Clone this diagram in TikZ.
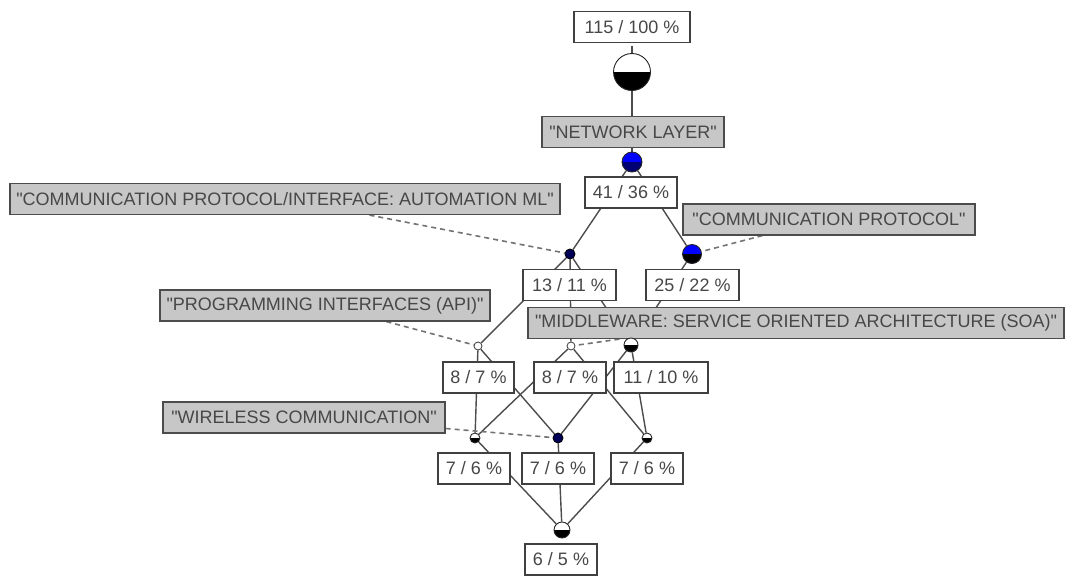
\documentclass[tikz,border=0pt]{standalone}
\usepackage{fontspec}
\setmainfont{Liberation Sans}[Ligatures=TeXOff]
\usetikzlibrary{backgrounds}
\begin{document}
\begin{tikzpicture}[x=1pt,y=-1pt,
  lbl/.style={font=\fontsize{18}{20}\selectfont, text=black!72, inner sep=0pt, line width=1.2pt},
  ext/.style={lbl, draw=black!75, fill=white, minimum height=31pt},
  attr/.style={lbl, draw=black!70, fill=black!22, minimum height=31pt},
  edge/.style={draw=black!70, line width=1.4pt},
  attrline/.style={draw=black!55, line width=1.6pt, dash pattern=on 5pt off 4pt},
  cnode/.style={circle, draw=black!85, line width=0.9pt, inner sep=0pt, fill=white},
  lowerfill/.style={path picture={\fill[#1] (path picture bounding box.west) rectangle (path picture bounding box.south east);}},
  objc/.style={cnode, lowerfill=black},
  bluec/.style={cnode, fill=blue, lowerfill=blue!45!black},
  blueobj/.style={cnode, fill=blue, lowerfill=black},
  navyc/.style={cnode, fill=blue!35!black, draw=black},
  emptyc/.style={cnode, fill=white, draw=black!70}
]
\useasboundingbox (0,0) rectangle (1067,576);

% extent labels
\node[ext, minimum width=116pt] (lt) at (632,27) {115 / 100 \%};
\node[ext, minimum width=92pt] (l1) at (631,192.5) {41 / 36 \%};
\node[ext, minimum width=93pt] (l2) at (569.5,285) {13 / 11 \%};
\node[ext, minimum width=93pt] (l3) at (692.5,285) {25 / 22 \%};
\node[ext, minimum width=71pt] (l4) at (478.5,377.5) {8 / 7 \%};
\node[ext, minimum width=72pt] (l5) at (570,377.5) {8 / 7 \%};
\node[ext, minimum width=94pt] (l6) at (661,377.5) {11 / 10 \%};
\node[ext, minimum width=72pt] (l7) at (474,468.5) {7 / 6 \%};
\node[ext, minimum width=72pt] (l8) at (558,468.5) {7 / 6 \%};
\node[ext, minimum width=72pt] (l9) at (647,468.5) {7 / 6 \%};
\node[ext, minimum width=72pt] (lb) at (561,559.5) {6 / 5 \%};

% attribute labels
\node[attr, minimum width=182pt] (anet) at (633,132) {"NETWORK LAYER"};
\node[attr, minimum width=550pt] (aaml) at (285,199) {"COMMUNICATION PROTOCOL/INTERFACE: AUTOMATION ML"};
\node[attr, minimum width=292pt] (acp) at (829,219.5) {"COMMUNICATION PROTOCOL"};
\node[attr, minimum width=330pt] (aapi) at (325,305.5) {"PROGRAMMING INTERFACES (API)"};
\node[attr, minimum width=536pt] (amw) at (796,323) {"MIDDLEWARE: SERVICE ORIENTED ARCHITECTURE (SOA)"};
\node[attr, minimum width=282pt] (awl) at (304,417.5) {"WIRELESS COMMUNICATION"};

% concept circles
\node[objc, minimum size=37pt] (t) at (632,72) {};
\node[bluec, minimum size=20pt] (n1) at (632,162) {};
\node[navyc, minimum size=10pt] (n2) at (570,254) {};
\node[blueobj, minimum size=19pt] (n3) at (692,254) {};
\node[emptyc, minimum size=8pt] (n4) at (478,346) {};
\node[emptyc, minimum size=8pt] (n5) at (571,346) {};
\node[objc, minimum size=14pt] (n6) at (631,345) {};
\node[objc, minimum size=10pt] (n7) at (475,438) {};
\node[navyc, minimum size=10pt] (n8) at (558,438) {};
\node[objc, minimum size=10pt] (n9) at (647,438) {};
\node[objc, minimum size=16pt] (b) at (562,530) {};

\begin{scope}[on background layer]
  % lattice edges
  \draw[edge] (t.north) -- ++(0,-7);
  \draw[edge] (t) -- (n1);
  \draw[edge] (n1) -- (n2);
  \draw[edge] (n1) -- (n3);
  \draw[edge] (n2) -- (n4);
  \draw[edge] (n2) -- (n5);
  \draw[edge] (n2) -- (n6);
  \draw[edge] (n3) -- (n6);
  \draw[edge] (n4) -- (n7);
  \draw[edge] (n4) -- (n8);
  \draw[edge] (n5) -- (n7);
  \draw[edge] (n5) -- (n9);
  \draw[edge] (n6) -- (n8);
  \draw[edge] (n6) -- (n9);
  \draw[edge] (n7) -- (b);
  \draw[edge] (n8) -- (b);
  \draw[edge] (n9) -- (b);
  % attribute connectors
  \draw[attrline] ([xshift=360pt]aaml.south west) -- (n2);
  \draw[attrline] ([xshift=80pt]acp.south west) -- (n3);
  \draw[attrline] ([xshift=227pt]aapi.south west) -- (n4);
  \draw[attrline] ([xshift=92pt]amw.south west) -- (n5);
  \draw[attrline] ([yshift=-11pt]awl.east) -- (n8);
\end{scope}
\end{tikzpicture}
\end{document}
